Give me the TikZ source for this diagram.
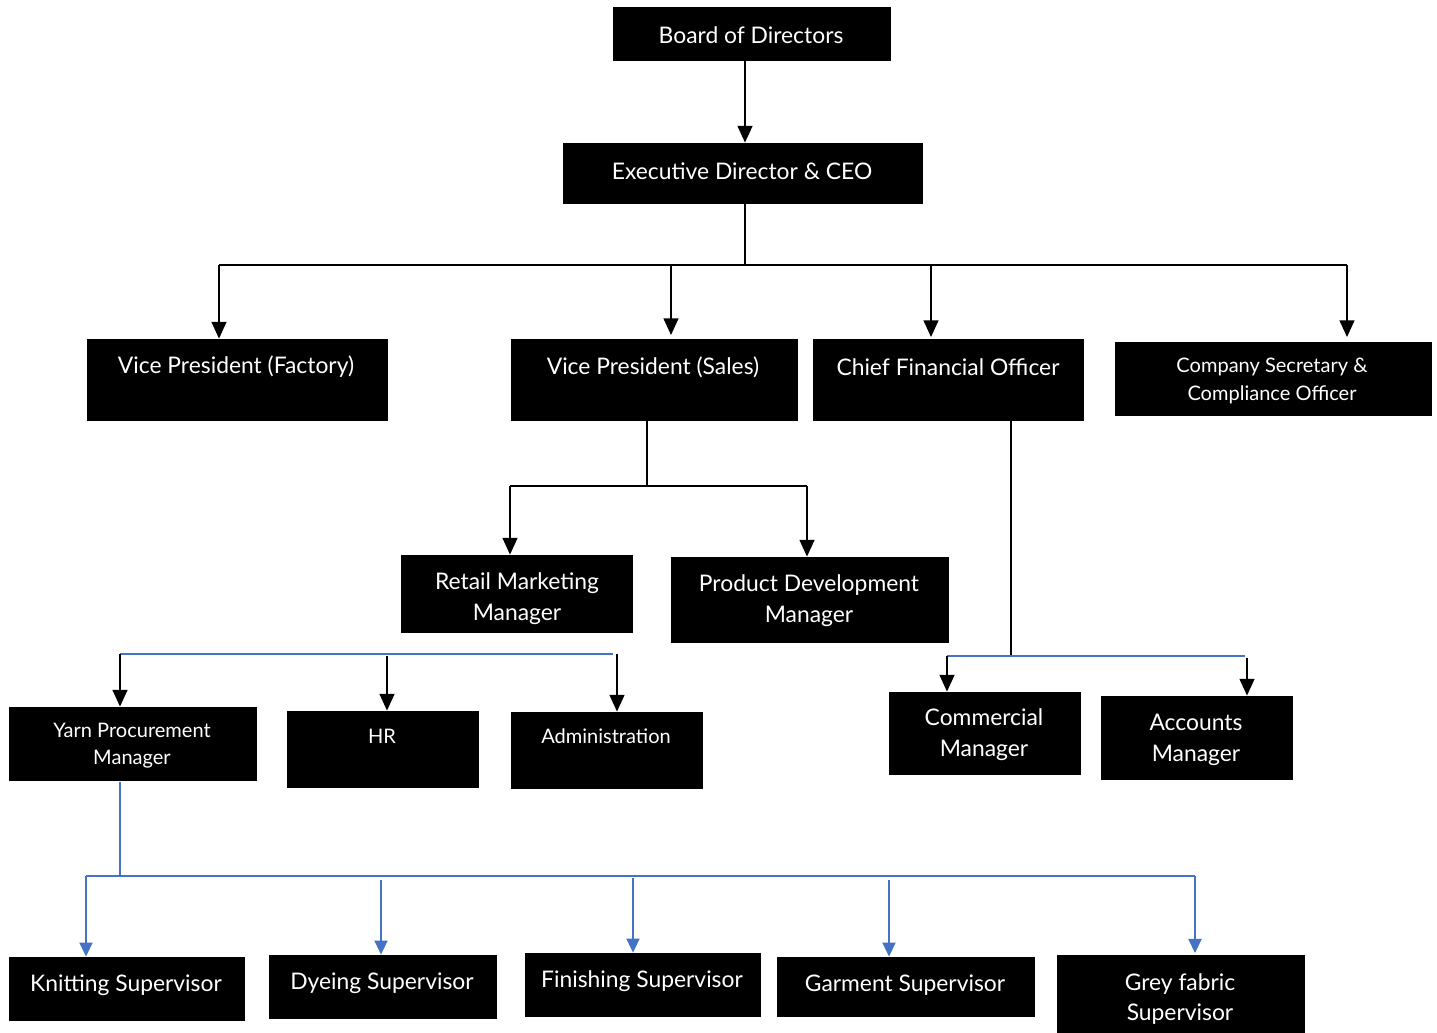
\documentclass[tikz,border=0pt]{standalone}
\usepackage{fontspec}
\setmainfont{Lato}
\usetikzlibrary{arrows.meta,fit}
\definecolor{lnblue}{HTML}{4472C4}
\tikzset{
 box/.style={fill=black,draw=black,inner sep=0pt,line width=0.5pt},
 txt/.style={text=white,font=\fontsize{13}{17.5}\selectfont,align=center,inner sep=0pt},
 stxt/.style={text=white,font=\fontsize{11.4}{15.5}\selectfont,align=center,inner sep=0pt},
 ln/.style={line width=0.8pt,black},
 bln/.style={line width=0.8pt,lnblue},
 arr/.style={ln,-{Triangle[width=8.5pt,length=9.5pt]}},
 barr/.style={bln,-{Triangle[width=7.5pt,length=8pt]}},
}
\newcommand{\bx}[5]{\coordinate (#1-a) at (#2,#3); \coordinate (#1-b) at (#4,#5); \node[box,fit=(#1-a)(#1-b)] (#1) {};}
\begin{document}
\begin{tikzpicture}[x=0.02cm,y=-0.02cm]
\useasboundingbox (0,0) rectangle (1437,1032);
% boxes
\bx{board}{613}{7}{890}{60}
\bx{ceo}{563}{143}{922}{203}
\bx{vpf}{87}{339}{387}{420}
\bx{vps}{511}{339}{797}{420}
\bx{cfo}{813}{339}{1083}{420}
\bx{csec}{1115}{342}{1431}{415}
\bx{retail}{401}{555}{632}{632}
\bx{prod}{671}{557}{948}{642}
\bx{yarn}{9}{707}{256}{780}
\bx{hr}{287}{711}{478}{787}
\bx{admin}{511}{712}{702}{788}
\bx{comm}{889}{692}{1080}{774}
\bx{acc}{1101}{696}{1292}{779}
\bx{knit}{9}{957}{244}{1020}
\bx{dye}{269}{955}{496}{1018}
\bx{fin}{525}{953}{760}{1016}
\bx{garm}{777}{957}{1034}{1016}
\bx{grey}{1057}{955}{1304}{1032}
% texts
\node[txt] (board-t) at (751,35) {Board of Directors};
\node[txt] (ceo-t) at (742,171) {Executive Director \& CEO};
\node[txt] (vpf-t) at (236,367) {Vice President (Factory)};
\node[txt] (vps-t) at (653,367) {Vice President (Sales)};
\node[txt] (cfo-t) at (948,367) {Chief Financial Officer};
\node[stxt] (csec-t) at (1272,381) {Company Secretary \&\\Compliance Officer};
\node[txt] (retail-t) at (517,599) {Retail Marketing\\Manager};
\node[txt] (prod-t) at (809,601) {Product Development\\Manager};
\node[stxt] (yarn-t) at (132,746) {Yarn Procurement\\Manager};
\node[stxt] (hr-t) at (382,736) {HR};
\node[stxt] (admin-t) at (606,736) {Administration};
\node[txt] (comm-t) at (984,735) {Commercial\\Manager};
\node[txt] (acc-t) at (1196,740) {Accounts\\Manager};
\node[txt] (knit-t) at (126,985) {Knitting Supervisor};
\node[txt] (dye-t) at (382,983) {Dyeing Supervisor};
\node[txt] (fin-t) at (642,981) {Finishing Supervisor};
\node[txt] (garm-t) at (905,985) {Garment Supervisor};
\node[txt] (grey-t) at (1180,999) {Grey fabric\\Supervisor};
% Board -> CEO
\draw[arr] (745,0 |- board.south) -- (745,0 |- ceo.north);
% CEO -> level 2
\coordinate (j1) at (745,265);
\coordinate (b1l) at (219,265);
\coordinate (b1r) at (1347,265);
\draw[ln] (745,0 |- ceo.south) -- (j1);
\draw[ln] (b1l) -- (b1r);
\draw[arr] (b1l) -- (219,0 |- vpf.north);
\draw[arr] (671,264) -- (671,335);
\draw[arr] (931,265) -- (931,337);
\draw[arr] (b1r) -- (1347,337);
% VP Sales -> managers
\coordinate (j2) at (647,486);
\coordinate (b2l) at (510,486);
\coordinate (b2r) at (807,486);
\draw[ln] (647,0 |- vps.south) -- (j2);
\draw[ln] (b2l) -- (b2r);
\draw[arr] (b2l) -- (510,0 |- retail.north);
\draw[arr] (b2r) -- (807,0 |- prod.north);
% CFO -> managers
\coordinate (j3) at (1011,655);
\coordinate (b3l) at (947,656);
\coordinate (b3r) at (1245,656);
\draw[ln] (1011,0 |- cfo.south) -- (j3);
\draw[bln] (b3l) -- (b3r);
\draw[arr] (b3l) -- (947,0 |- comm.north);
\draw[arr] (1247,658) -- (1247,0 |- acc.north);
% left group
\coordinate (b4l) at (120,654);
\coordinate (b4r) at (613,654);
\draw[bln] (b4l) -- (b4r);
\draw[arr] (b4l) -- (120,0 |- yarn.north);
\draw[arr] (387,656) -- (387,0 |- hr.north);
\draw[arr] (617,654) -- (617,0 |- admin.north);
% Yarn -> supervisors
\coordinate (j5) at (120,876);
\coordinate (b5l) at (86,876);
\coordinate (b5r) at (1195,876);
\draw[bln] (120,782) -- (j5);
\draw[bln] (b5l) -- (b5r);
\draw[barr] (b5l) -- (86,0 |- knit.north);
\draw[barr] (381,880) -- (381,0 |- dye.north);
\draw[barr] (633,878) -- (633,0 |- fin.north);
\draw[barr] (889,880) -- (889,0 |- garm.north);
\draw[barr] (b5r) -- (1195,953);
\end{tikzpicture}
\end{document}
